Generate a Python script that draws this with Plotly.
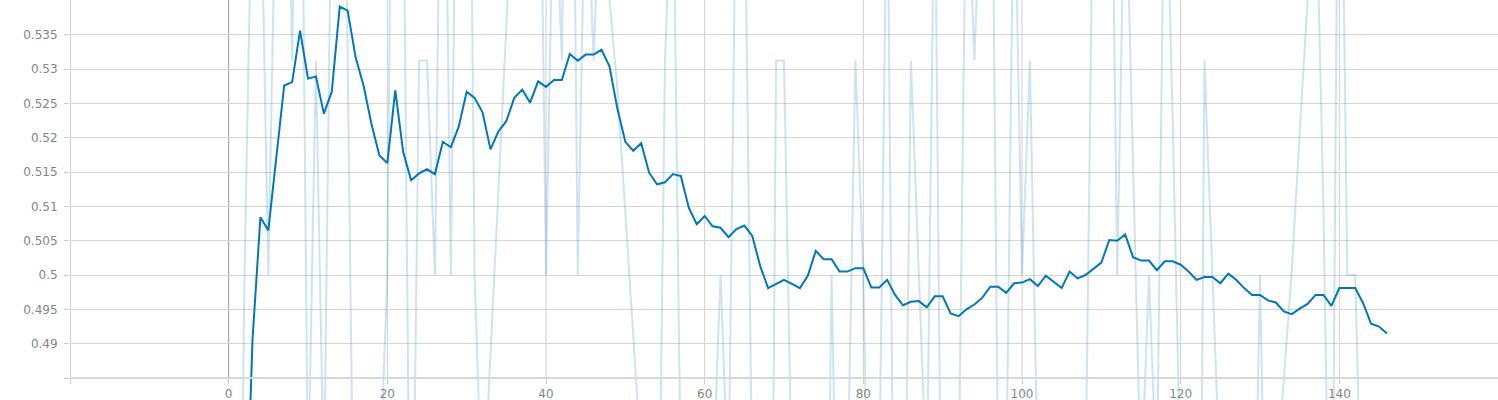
import plotly.graph_objects as go

# ---- data ----
steps = list(range(1, 147))

raw_values = [
    0.40625, 0.5, 0.5625, 0.5625, 0.5, 0.5625, 0.59375, 0.53125, 0.59375, 0.46875,
    0.53125, 0.46875, 0.5625, 0.65625, 0.53125, 0.4375, 0.46875, 0.4375, 0.46875, 0.5,
    0.625, 0.5625, 0.4375, 0.53125, 0.53125, 0.5, 0.59375, 0.5, 0.59375, 0.625,
    0.5, 0.4644, 0.4884, 0.5122, 0.5361, 0.5601, 0.5625, 0.5625, 0.59375, 0.5,
    0.5625, 0.53125, 0.625, 0.5, 0.5625, 0.53125, 0.5625, 0.5401, 0.5271, 0.5091,
    0.4912, 0.4731, 0.4375, 0.4375, 0.53125, 0.5625, 0.46875, 0.40625, 0.4375, 0.46875,
    0.46875, 0.5, 0.46875, 0.5625, 0.5625, 0.46875, 0.375, 0.375, 0.53125, 0.53125,
    0.46875, 0.46875, 0.46875, 0.4375, 0.40625, 0.5, 0.4375, 0.46875, 0.53125, 0.5,
    0.4375, 0.46875, 0.5625, 0.4375, 0.4375, 0.53125, 0.5, 0.46875, 0.5625, 0.4375,
    0.4375, 0.46875, 0.5625, 0.53125, 0.5625, 0.59375, 0.46875, 0.46875, 0.5625, 0.5,
    0.53125, 0.46875, 0.46875, 0.46875, 0.46875, 0.4375, 0.46875, 0.46875, 0.5625, 0.5625,
    0.59375, 0.5, 0.5625, 0.5159, 0.46875, 0.5, 0.46875, 0.5684, 0.5223, 0.46875,
    0.46875, 0.375, 0.53125, 0.5, 0.46875, 0.46875, 0.46875, 0.4375, 0.4375, 0.5,
    0.4375, 0.46875, 0.4848, 0.5007, 0.5205, 0.5403, 0.5602, 0.5097, 0.4375, 0.59375,
    0.5, 0.5, 0.4375, 0.40625, 0.46875, 0.46875,
]

smoothed_values = [
    0.4063, 0.4550, 0.4905, 0.5084, 0.5065, 0.5167, 0.5276, 0.5281, 0.5356, 0.5286,
    0.5289, 0.5235, 0.5267, 0.5391, 0.5385, 0.5317, 0.5276, 0.5220, 0.5174, 0.5163,
    0.5269, 0.5179, 0.5138, 0.5148, 0.5154, 0.5147, 0.5194, 0.5186, 0.5216, 0.5267,
    0.5258, 0.5237, 0.5183, 0.5209, 0.5224, 0.5258, 0.5270, 0.5251, 0.5282, 0.5274,
    0.5284, 0.5284, 0.5322, 0.5312, 0.5321, 0.5321, 0.5328, 0.5304, 0.5242, 0.5194,
    0.5181, 0.5192, 0.5149, 0.5132, 0.5135, 0.5147, 0.5144, 0.5098, 0.5074, 0.5086,
    0.5071, 0.5069, 0.5055, 0.5067, 0.5072, 0.5057, 0.5013, 0.4981, 0.4987, 0.4993,
    0.4987, 0.4981, 0.4999, 0.5035, 0.5023, 0.5023, 0.5005, 0.5005, 0.5010, 0.5010,
    0.4982, 0.4982, 0.4993, 0.4971, 0.4956, 0.4961, 0.4962, 0.4953, 0.4969, 0.4969,
    0.4944, 0.4940, 0.4950, 0.4957, 0.4967, 0.4983, 0.4983, 0.4974, 0.4988, 0.4989,
    0.4994, 0.4984, 0.4999, 0.4990, 0.4981, 0.5005, 0.4995, 0.5000, 0.5009, 0.5018,
    0.5051, 0.5050, 0.5059, 0.5026, 0.5021, 0.5021, 0.5007, 0.5020, 0.5020, 0.5015,
    0.5005, 0.4993, 0.4997, 0.4997, 0.4988, 0.5002, 0.4993, 0.4981, 0.4971, 0.4971,
    0.4963, 0.4960, 0.4947, 0.4943, 0.4951, 0.4958, 0.4971, 0.4971, 0.4955, 0.4981,
    0.4981, 0.4981, 0.4959, 0.4929, 0.4925, 0.4915,
]

y_tick_values = [0.485, 0.49, 0.495, 0.5, 0.505, 0.51, 0.515, 0.52, 0.525, 0.53, 0.535]
y_tick_labels = ["", "0.49", "0.495", "0.5", "0.505", "0.51", "0.515", "0.52", "0.525", "0.53", "0.535"]
x_tick_values = [-20, 0, 20, 40, 60, 80, 100, 120, 140, 160]
x_tick_labels = ["", "0", "20", "40", "60", "80", "100", "120", "140", ""]

# ---- styling ----
Y_MIN, Y_MAX = 0.4818, 0.54005
X_MIN, X_MAX = -20, 160
AXIS_Y = 0.485
LINE_COLOR = "#0077bb"
RAW_COLOR = "rgba(0,119,187,0.2)"
GRID = "#d6d6d6"
FONT = dict(family="DejaVu Sans", size=12, color="#858585")

fig = go.Figure()
fig.add_trace(go.Scatter(x=steps, y=raw_values, mode="lines",
                         line=dict(color=RAW_COLOR, width=2), hoverinfo="skip"))
fig.add_trace(go.Scatter(x=steps, y=smoothed_values, mode="lines",
                         line=dict(color=LINE_COLOR, width=2)))

shapes = []
for xv in x_tick_values[1:-1]:
    shapes.append(dict(type="line", xref="x", yref="y", x0=xv, x1=xv,
                       y0=AXIS_Y, y1=Y_MAX, layer="below",
                       line=dict(color="#9a9a9a" if xv == 0 else "#d0d0d0", width=1)))
# left axis line
shapes.append(dict(type="line", xref="x", yref="y", x0=X_MIN, x1=X_MIN,
                   y0=AXIS_Y - 0.0006, y1=Y_MAX, layer="above",
                   line=dict(color="#d0d0d0", width=2)))

fig.update_layout(
    width=1498, height=400,
    margin=dict(l=70, r=0, t=0, b=0, autoexpand=False),
    paper_bgcolor="white", plot_bgcolor="white",
    showlegend=False,
    shapes=shapes,
    xaxis=dict(range=[X_MIN, X_MAX], anchor="free", position=0.055,
               automargin=False,
               tickmode="array", tickvals=x_tick_values, ticktext=x_tick_labels,
               ticks="outside", ticklen=5, tickcolor="#cccccc", tickwidth=1,
               showgrid=False, zeroline=False,
               showline=True, linecolor="#d8d8d8", linewidth=2,
               tickfont=FONT),
    yaxis=dict(range=[Y_MIN, Y_MAX], automargin=False,
               tickmode="array", tickvals=y_tick_values, ticktext=y_tick_labels,
               ticks="outside", ticklen=5, tickcolor="#cccccc", tickwidth=1,
               showgrid=True, gridcolor=GRID, gridwidth=1,
               zeroline=False, showline=False,
               ticklabelstandoff=4,
               tickfont=FONT),
)

fig.write_html("out.html",
               config={"displayModeBar": False},
               post_script="document.body.style.margin='0';document.body.style.padding='0';")
